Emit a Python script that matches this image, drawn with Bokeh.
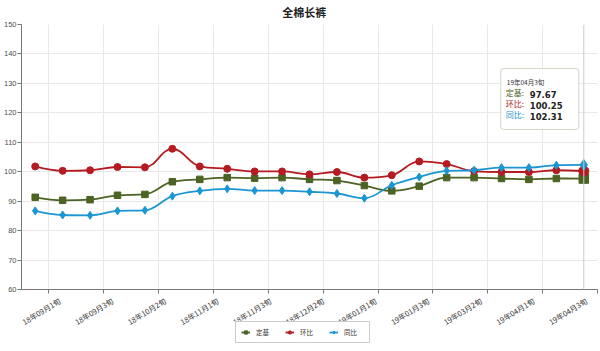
from bokeh.plotting import figure
from bokeh.layouts import column
from bokeh.core.properties import value
from bokeh.models import (FixedTicker, Legend, LegendItem, Span, BoxAnnotation, Label, Range1d)
from bokeh.embed import file_html
from bokeh.resources import INLINE

# ---------------- data ----------------
categories = ["18年09月1旬", "18年09月2旬", "18年09月3旬", "18年10月1旬", "18年10月2旬",
              "18年10月3旬", "18年11月1旬", "18年11月2旬", "18年11月3旬", "18年12月1旬",
              "18年12月2旬", "18年12月3旬", "19年01月1旬", "19年01月2旬", "19年01月3旬",
              "19年03月1旬", "19年03月2旬", "19年03月3旬", "19年04月1旬", "19年04月2旬",
              "19年04月3旬"]
dingji = [91.3, 90.3, 90.5, 92.0, 92.3, 96.6, 97.4, 98.0, 97.8, 98.0, 97.4,
          97.0, 95.3, 93.5, 95.1, 98.0, 98.0, 97.7, 97.4, 97.7, 97.67]
huanbi = [101.8, 100.3, 100.5, 101.6, 101.5, 107.8, 101.8, 101.0, 100.1, 100.1, 99.1,
          99.9, 98.0, 98.8, 103.5, 102.6, 100.2, 99.9, 99.9, 100.5, 100.25]
tongbi = [86.7, 85.3, 85.2, 86.7, 86.9, 91.7, 93.5, 94.2, 93.6, 93.6, 93.2,
          92.6, 91.0, 95.4, 98.2, 100.3, 100.5, 101.4, 101.4, 102.2, 102.31]
series_names = ["定基", "环比", "同比"]
y_ticks = [60, 70, 80, 90, 100, 110, 120, 130, 140, 150]
title_text = "全棉长裤"

# ---------------- style ----------------
COLORS = ["#4b6323", "#b41c22", "#1b96d2"]
MARKERS = ["square", "circle", "diamond"]
SIZES = [6.5, 7, 8]
CJK = "Noto Sans CJK SC"
LAT = "Liberation Sans"

n = len(categories)
xs = list(range(n))
series = [dingji, huanbi, tongbi]

W = 600
TITLE_H = 18
LEFT, RIGHT, TOP = 21, 3, 6
FRAME_W, FRAME_H = W - LEFT - RIGHT, 265
AXIS_B = 5
MAIN_H = TOP + FRAME_H + AXIS_B
LOW_H = 351 - TITLE_H - MAIN_H
ppx = FRAME_W / n
ppy = FRAME_H / (150 - 60)


def strip(height, x_range):
    f = figure(width=W, height=height, output_backend="svg", toolbar_location=None,
               x_range=x_range, y_range=Range1d(0, height), x_axis_type=None, y_axis_type=None,
               min_border=0, min_border_left=0, min_border_right=0, min_border_top=0,
               min_border_bottom=0)
    f.outline_line_color = None
    f.xgrid.visible = False
    f.ygrid.visible = False
    return f


# ---------------- title strip ----------------
tf = strip(TITLE_H, Range1d(0, W))
tf.text(x=[W / 2 - 5.5], y=[TITLE_H - 11], text=[title_text], text_align="center",
        text_baseline="middle", text_font=value(CJK), text_font_size="11px",
        text_font_style="bold", text_color="#222222")

# ---------------- main plot ----------------
p = figure(width=W, height=MAIN_H, output_backend="svg", toolbar_location=None,
           x_range=Range1d(-0.5, n - 0.5), y_range=Range1d(60, 150),
           min_border_left=LEFT, min_border_right=RIGHT, min_border_top=TOP,
           min_border_bottom=AXIS_B)
p.outline_line_color = None
p.background_fill_color = "white"

# y axis
p.yaxis.ticker = FixedTicker(ticks=y_ticks)
p.yaxis.major_label_text_font = LAT
p.yaxis.major_label_text_font_size = "7.5px"
p.yaxis.major_label_text_color = "#4d4d4d"
p.yaxis.major_tick_out = 4
p.yaxis.major_tick_in = 0
p.yaxis.minor_tick_line_color = None
p.yaxis.major_label_standoff = 1
p.yaxis.axis_line_color = "#777777"
p.yaxis.major_tick_line_color = "#777777"

# x axis: tick marks between categories; labels drawn in the strip below
label_pos = xs[::2]
bounds = [i + 0.5 for i in range(0, n, 2)]
p.xaxis.ticker = FixedTicker(ticks=[], minor_ticks=bounds)
p.xaxis.major_tick_line_color = None
p.xaxis.major_label_text_font_size = "0px"
p.xaxis.major_label_standoff = 0
p.xaxis.minor_tick_out = 4
p.xaxis.minor_tick_in = 0
p.xaxis.minor_tick_line_color = "#777777"
p.xaxis.axis_line_color = "#777777"

p.xgrid.ticker = FixedTicker(ticks=bounds)
p.xgrid.grid_line_color = "#e8e8e8"
p.ygrid.grid_line_color = "#e8e8e8"


def spline_controls(xv, yv, smoothing=1.5):
    m = len(xv)
    left = [(xv[i], yv[i]) for i in range(m)]
    right = [(xv[i], yv[i]) for i in range(m)]
    d = smoothing + 1
    for i in range(1, m - 1):
        lx, ly = xv[i - 1], yv[i - 1]
        nx, ny = xv[i + 1], yv[i + 1]
        px, py = xv[i], yv[i]
        lcx = (smoothing * px + lx) / d
        lcy = (smoothing * py + ly) / d
        rcx = (smoothing * px + nx) / d
        rcy = (smoothing * py + ny) / d
        corr = ((rcy - lcy) * (rcx - px)) / (rcx - lcx) + py - rcy
        lcy += corr
        rcy += corr
        if lcy > ly and lcy > py:
            lcy = max(ly, py); rcy = 2 * py - lcy
        elif lcy < ly and lcy < py:
            lcy = min(ly, py); rcy = 2 * py - lcy
        if rcy > ny and rcy > py:
            rcy = max(ny, py); lcy = 2 * py - rcy
        elif rcy < ny and rcy < py:
            rcy = min(ny, py); lcy = 2 * py - rcy
        left[i] = (lcx, lcy)
        right[i] = (rcx, rcy)
    return left, right


# crosshair
p.add_layout(Span(location=xs[-1], dimension="height", line_color="#cccccc", line_width=1))

for name, vals, col, mk, sz in zip(series_names, series, COLORS, MARKERS, SIZES):
    left, right = spline_controls(xs, vals)
    p.bezier(x0=xs[:-1], y0=vals[:-1], x1=xs[1:], y1=vals[1:],
             cx0=[c[0] for c in right[:-1]], cy0=[c[1] for c in right[:-1]],
             cx1=[c[0] for c in left[1:]], cy1=[c[1] for c in left[1:]],
             line_color=col, line_width=1.8)
    p.scatter(xs[:-1], vals[:-1], marker=mk, size=sz, fill_color=col, line_color=col)
    p.scatter(xs[-1:], vals[-1:], marker=mk, size=sz + 3, fill_color=col, line_color=col)

# tooltip (static)
ax, ay = xs[-1], 150  # anchor at last category, top of frame
box = BoxAnnotation(left=ax - 83 / ppx, right=ax - 5 / ppx, top=ay - 44 / ppy, bottom=ay - 105 / ppy,
                    fill_color="white", fill_alpha=0.9, line_color="#6b7a4a", line_width=1,
                    border_radius=3)
p.add_layout(box)
p.add_layout(Label(x=ax, y=ay, x_offset=-77, y_offset=-62, text=categories[-1],
                   text_font=CJK, text_font_size="6.5px", text_color="#333333"))
vals_last = [s[-1] for s in series]
for k, (name, v, col) in enumerate(zip(series_names, vals_last, COLORS)):
    yo = -73 - k * 11.2
    p.add_layout(Label(x=ax, y=ay, x_offset=-78, y_offset=yo, text=name + ":",
                       text_font=CJK, text_font_size="8px", text_color=col))
    p.add_layout(Label(x=ax, y=ay, x_offset=-54, y_offset=yo, text=f"{v:.2f}",
                       text_font="DejaVu Sans", text_font_size="8.5px", text_font_style="bold",
                       text_color="#222222"))

# ---------------- lower strip: category labels + legend ----------------
lf = strip(LOW_H, Range1d(-0.5 - LEFT / ppx, n - 0.5 + RIGHT / ppx))
lf.text(x=label_pos, y=[LOW_H - 0.5] * len(label_pos), text=[categories[i] for i in label_pos],
        angle=0.55, text_align="right", text_baseline="top", x_offset=2,
        text_font=value(CJK), text_font_size="7.5px", text_color="#333333")

items = []
for name, vals, col, mk, sz in zip(series_names, series, COLORS, MARKERS, SIZES):
    # these renderers fall outside the strip's y range; they only feed the legend glyphs
    r_line = lf.line(xs, vals, line_color=col, line_width=1.8)
    r_mark = lf.scatter(xs, vals, marker=mk, size=sz, fill_color=col, line_color=col)
    items.append(LegendItem(label=name, renderers=[r_line, r_mark]))
legend = Legend(items=items, orientation="horizontal", location=(214, 8),
                label_text_font=CJK, label_text_font_size="6.5px", label_text_color="#333333",
                glyph_width=9, glyph_height=8, label_height=10, label_standoff=6, spacing=9,
                padding=5, margin=0, border_line_color="#999999", border_line_width=1,
                background_fill_color="white")
lf.add_layout(legend, "center")

open("out.html", "w").write(file_html(column(tf, p, lf, spacing=0), INLINE))
